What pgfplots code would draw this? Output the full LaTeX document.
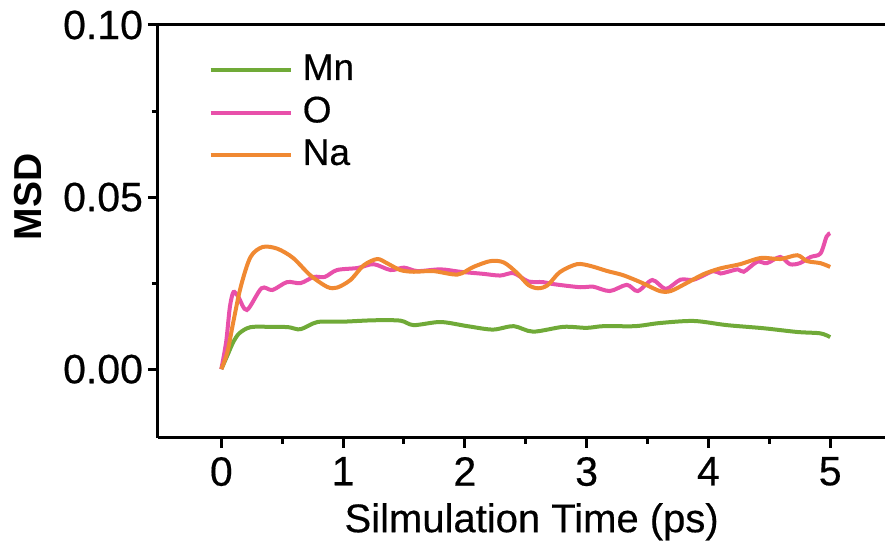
\documentclass[border=0pt]{standalone}
\usepackage{pgfplots}
\pgfplotsset{compat=1.18}
\usepackage{fontspec}
\setmainfont{Liberation Sans}
\newfontfamily\tf[FakeBold=0.4]{Liberation Sans}
\definecolor{cMn}{RGB}{112,170,56}
\definecolor{cO}{RGB}{232,80,170}
\definecolor{cNa}{RGB}{240,137,50}
\begin{document}
\begin{tikzpicture}
\begin{axis}[
  name=ax, at={(0,0)}, anchor=south west,
  scale only axis,
  width=363.5pt, height=206.5pt,
  xmin=-0.52, xmax=5.45,
  ymin=-0.02, ymax=0.10,
  axis x line*=box, axis y line*=left,
  xtick={0,1,2,3,4,5},
  ytick={0,0.05,0.10},
  minor x tick num=1, minor y tick num=1,
  xtick pos=bottom, ytick pos=left,
  tick align=outside,
  major tick length=5pt, minor tick length=3pt,
  every tick/.style={black, line width=1.5pt},
  axis line style={line width=1.5pt},
  yticklabel style={/pgf/number format/fixed, /pgf/number format/precision=2, /pgf/number format/fixed zerofill, xshift=1pt},
  xticklabel style={yshift=-1pt},
  /pgf/number format/assume math mode=true,
  tick label style={font=\tf\fontsize{20.5pt}{22pt}\selectfont},
  xlabel={Silmulation Time (ps)},
  ylabel={\bfseries MSD},
  xlabel style={font=\tf\fontsize{20pt}{22pt}\selectfont, at={(axis description cs:0.514,-0.203)}, anchor=center},
  ylabel style={font=\fontsize{19.5pt}{22pt}\selectfont, at={(axis description cs:-0.179,0.584)}, anchor=center, rotate=0},
  legend style={draw=none, fill=none, at={(axis description cs:0.061,0.943)}, anchor=north west,
    font=\tf\fontsize{18.5pt}{20pt}\selectfont, row sep=3.75pt,
    nodes={inner sep=0pt, text height=13.5pt, text depth=4pt},
    /tikz/every odd column/.append style={column sep=5pt}},
  legend cell align=left,
  legend image code/.code={\draw[#1, line width=2pt] (0pt,0pt) -- (40pt,0pt);},
  clip=false,
]
\addplot[cMn, line width=2pt, smooth] coordinates {
(0,0) (0.05,0.004) (0.1,0.008) (0.15,0.0105) (0.24,0.0122) (0.4,0.0123) (0.55,0.0122) (0.65,0.0116)
(0.79,0.0137) (1.0,0.0138) (1.25,0.0142) (1.47,0.0141) (1.58,0.0128) (1.8,0.0137) (2.02,0.0125)
(2.23,0.0115) (2.4,0.0125) (2.56,0.0109) (2.81,0.0123) (3.0,0.0120) (3.14,0.0125) (3.4,0.0125)
(3.6,0.0134) (3.88,0.0140) (4.15,0.0128) (4.45,0.0119) (4.73,0.0108) (4.92,0.0104) (5.0,0.0093)
};
\addlegendentry{Mn}
\addplot[cO, line width=2pt, smooth] coordinates {
(0,0) (0.04,0.008) (0.07,0.018) (0.1,0.0224) (0.14,0.021) (0.21,0.0172) (0.33,0.0235) (0.42,0.023)
(0.54,0.0253) (0.65,0.0250) (0.76,0.0268) (0.85,0.0268) (0.95,0.0288) (1.12,0.0294) (1.25,0.0305)
(1.39,0.0288) (1.5,0.0295) (1.61,0.0285) (1.8,0.0290) (1.96,0.0283) (2.15,0.0277) (2.29,0.0272)
(2.4,0.0279) (2.52,0.0255) (2.64,0.0253) (2.73,0.0247) (2.95,0.0238) (3.05,0.0240) (3.19,0.0227)
(3.33,0.0245) (3.42,0.0227) (3.54,0.0259) (3.65,0.0233) (3.77,0.0260) (3.88,0.0260) (4.04,0.0285)
(4.1,0.0278) (4.24,0.0290) (4.29,0.0283) (4.4,0.0312) (4.48,0.0308) (4.59,0.0326) (4.67,0.0305)
(4.75,0.0308) (4.84,0.0326) (4.92,0.0336) (4.97,0.0385) (5.0,0.0395)
};
\addlegendentry{O}
\addplot[cNa, line width=2pt, smooth] coordinates {
(0,0) (0.05,0.005) (0.1,0.014) (0.16,0.024) (0.24,0.0326) (0.34,0.0355) (0.46,0.0350) (0.59,0.0323)
(0.73,0.0273) (0.87,0.0239) (0.95,0.0237) (1.06,0.0259) (1.17,0.0302) (1.28,0.0320) (1.36,0.0308)
(1.47,0.0288) (1.58,0.0283) (1.74,0.0285) (1.94,0.0275) (2.07,0.0297) (2.21,0.0314) (2.32,0.0310)
(2.43,0.0279) (2.52,0.0245) (2.6,0.0235) (2.68,0.0244) (2.78,0.0282) (2.92,0.0305) (3.03,0.0300)
(3.17,0.0285) (3.30,0.0273) (3.46,0.0250) (3.6,0.0227) (3.69,0.0227) (3.82,0.0250) (3.96,0.0276)
(4.1,0.0293) (4.26,0.0305) (4.43,0.0323) (4.59,0.0320) (4.73,0.0331) (4.81,0.0314) (4.92,0.0308)
(5.0,0.0297)
};
\addlegendentry{Na}
\end{axis}
\pgfresetboundingbox
\path[use as bounding box] (-79pt,-53.5pt) rectangle (363.5pt,219pt);
\end{tikzpicture}
\end{document}
